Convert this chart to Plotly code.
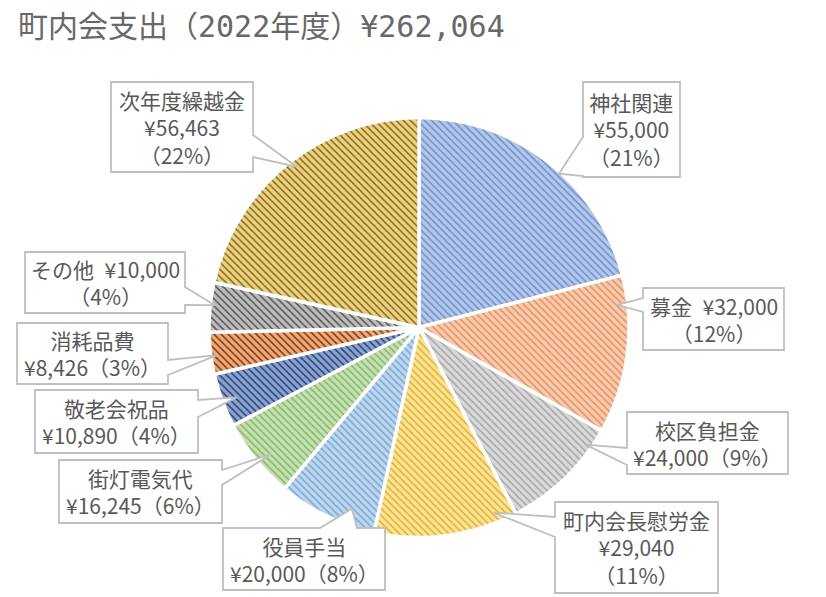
import plotly.graph_objects as go
import math

# ---- data ----
categories = ["神社関連", "募金", "校区負担金", "町内会長慰労金", "役員手当",
              "街灯電気代", "敬老会祝品", "消耗品費", "その他", "次年度繰越金"]
amounts = [55000, 32000, 24000, 29040, 20000, 16245, 10890, 8426, 10000, 56463]
title_prefix = "町内会支出（2022年度）"

# ---- styles ----
bg_colors = ["#b4c7e7", "#f8cbad", "#d9d9d9", "#ffe38f", "#bdd7ee",
             "#c5e0b4", "#8aa3d3", "#f0a878", "#bdbdbd", "#f0d27e"]
fg_colors = ["#6f8fd0", "#e39066", "#a5a5a5", "#d8b13f", "#7aa6d6",
             "#86b863", "#2a4270", "#7a3a12", "#555555", "#806a28"]

OFF = 8                      # page body margin
W, H = 826, 597              # screen size
CX, CY, R = 419, 327.5, 210  # pie centre / radius on screen

# label layout: box (x0,y0,x1,y1) in px, side of pointer, pointer base range, pointer position in slice, text mode
label_boxes = [
    (583, 82, 680, 177, "l", 137, 176, 0.56, 0.99, "a"),
    (643, 288, 784, 350, "l", 298, 312, 0.18, 0.95, "b"),
    (627, 412, 788, 474, "l", 448, 465, 0.17, 0.97, "c"),
    (555, 502, 718, 593, "l", 517, 537, 0.14, 0.95, "a"),
    (223, 528, 385, 590, "t", 320, 357, 0.29, 0.92, "c"),
    (59, 460, 222, 523, "r", 470, 485, 0.43, 0.93, "c"),
    (35, 390, 198, 453, "r", 400, 417, 0.46, 0.93, "c"),
    (17, 323, 168, 384, "r", 360, 375, 0.44, 0.97, "c"),
    (25, 252, 185, 313, "r", 287, 305, 0.55, 0.98, "b"),
    (111, 82, 253, 172, "r", 135, 157, 0.52, 0.96, "a"),
]

total = sum(amounts)
FW, FH = W - OFF, H - OFF

def px(x, y):
    return (x - OFF) / FW, 1 - (y - OFF) / FH

dx0, dy1 = px(CX - R, CY - R)
dx1, dy0 = px(CX + R, CY + R)

fig = go.Figure()
fig.add_trace(go.Pie(
    labels=categories, values=amounts, sort=False, direction="clockwise", rotation=0,
    textinfo="none", hoverinfo="label+value+percent",
    marker=dict(colors=bg_colors, line=dict(color="white", width=3.5),
                pattern=dict(shape="\\", fgcolor=fg_colors, bgcolor=bg_colors,
                             size=5, solidity=0.3, fillmode="replace")),
    domain=dict(x=[dx0, dx1], y=[dy0, dy1]),
    showlegend=False,
))

shapes = []
annotations = []
cum = 0
for name, v, box in zip(categories, amounts, label_boxes):
    x0, y0, x1, y1, side, a, b, frac, rf, mode = box
    start = cum / total * 360
    ext = v / total * 360
    cum += v
    th = math.radians(start + frac * ext)
    tx = CX + rf * R * math.sin(th)
    ty = CY - rf * R * math.cos(th)
    if side == "l":
        pts = [(x0, y0), (x1, y0), (x1, y1), (x0, y1), (x0, b), (tx, ty), (x0, a)]
    elif side == "r":
        pts = [(x0, y0), (x1, y0), (x1, a), (tx, ty), (x1, b), (x1, y1), (x0, y1)]
    else:
        pts = [(x0, y0), (a, y0), (tx, ty), (b, y0), (x1, y0), (x1, y1), (x0, y1)]
    path = "M " + " L ".join("%.5f,%.5f" % px(*p) for p in pts) + " Z"
    shapes.append(dict(type="path", xref="paper", yref="paper", path=path,
                       fillcolor="white", line=dict(color="#bfbfbf", width=1.8), layer="above"))
    pct = round(v / total * 100)
    val = "¥{:,}".format(v)
    if mode == "a":
        txt = f"{name}<br>{val}<br>（{pct}%）"
    elif mode == "b":
        txt = f"{name}\u2002{val}<br>（{pct}%）"
    else:
        txt = f"{name}<br>{val}（{pct}%）"
    cxp, cyp = px((x0 + x1) / 2, (y0 + y1) / 2)
    annotations.append(dict(x=cxp, y=cyp, xref="paper", yref="paper", text=txt,
                            showarrow=False, xanchor="center", yanchor="middle",
                            align="center",
                            font=dict(family="Noto Sans CJK JP", size=21, color="#595959")))

tx_, ty_ = px(17, 27)
annotations.append(dict(x=tx_, y=ty_, xref="paper", yref="paper",
                        text=f"{title_prefix}¥{total:,}", showarrow=False,
                        xanchor="left", yanchor="middle", borderpad=0,
                        font=dict(family="DejaVu Sans Mono, Noto Sans CJK JP", size=30, color="#686868")))

fig.update_layout(width=FW, height=FH, margin=dict(l=0, r=0, t=0, b=0),
                  paper_bgcolor="white", plot_bgcolor="white",
                  shapes=shapes, annotations=annotations)

fig.write_html("out.html")
